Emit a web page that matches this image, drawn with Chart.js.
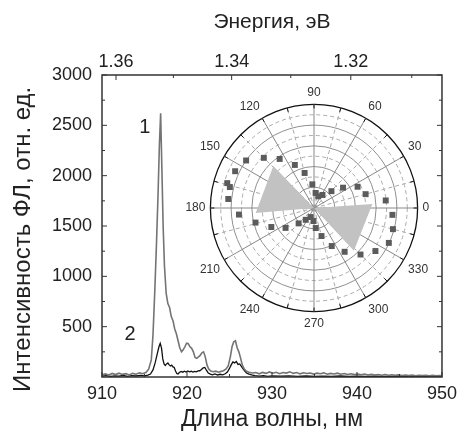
<!DOCTYPE html>
<html>
<head>
<meta charset="utf-8">
<script src="https://cdn.jsdelivr.net/npm/chart.js@4"></script>
<style>
  html, body { margin: 0; padding: 0; background: #fff; overflow: hidden; }
  #wrap { position: relative; width: 463px; height: 438px; overflow: hidden; }
  #main { position: absolute; left: 0; top: 0; }
  #inset { position: absolute; left: 164px; top: 85px; }
</style>
</head>
<body>
<div id="wrap">
  <canvas id="main" width="463" height="438"></canvas>
  <canvas id="inset" width="300" height="246"></canvas>
</div>
<script>
// Спектр 1 (серый)
const wl1 = [910.0, 910.4, 910.8, 911.2, 911.6, 912.0, 912.4, 912.8, 913.2, 913.6, 914.0, 914.4, 914.8, 915.2, 915.5, 915.8,
  916.0, 916.2, 916.4, 916.6, 916.75, 916.9, 917.05, 917.2, 917.35, 917.55, 917.75, 917.95, 918.15, 918.35, 918.55, 918.75,
  918.95, 919.15, 919.35, 919.55, 919.75, 919.95, 920.15, 920.35, 920.55, 920.75, 920.95, 921.15, 921.35, 921.55, 921.75,
  921.95, 922.15, 922.35, 922.55, 922.8, 923.1, 923.4, 923.7, 924.0, 924.3, 924.6, 924.85, 925.1, 925.3, 925.5, 925.7,
  925.9, 926.1, 926.3, 926.5, 926.7, 926.95, 927.3, 927.7, 928.1, 928.5, 928.9, 929.3, 929.7, 930.1, 930.5, 930.9, 931.3,
  931.7, 932.1, 932.5, 932.9, 933.3, 933.7, 934.1, 934.5, 934.9, 935.3, 935.7, 936.1, 936.5, 936.9, 937.3, 937.7, 938.1,
  938.5, 938.9, 939.3, 939.7, 940.1, 940.5, 940.9, 941.3, 941.7, 942.1, 942.5, 942.9, 943.3, 943.7, 944.1, 944.5, 944.9,
  945.3, 945.7, 946.1, 946.5, 946.9, 947.3, 947.7, 948.1, 948.5, 948.9, 949.3, 949.7, 950.0];
const pl1 = [22, 31, 19, 35, 24, 38, 26, 33, 21, 36, 28, 41, 33, 46, 80, 170,
  420, 830, 1300, 1830, 2300, 2620, 2050, 1480, 1100, 830, 730, 690, 600, 560, 480, 430,
  360, 290, 250, 270, 300, 335, 330, 300, 285, 250, 195, 185, 200, 215, 240,
  250, 200, 120, 80, 60, 52, 58, 48, 56, 62, 80, 110, 200, 300, 350, 360,
  290, 250, 190, 120, 85, 60, 48, 40, 44, 32, 46, 36, 50, 38, 47, 33, 45,
  39, 52, 36, 44, 31, 42, 35, 40, 29, 38, 32, 41, 28, 36, 30, 38, 27,
  34, 25, 32, 24, 30, 22, 29, 20, 27, 19, 25, 18, 24, 17, 22, 16, 21,
  15, 20, 14, 19, 13, 18, 14, 17, 12, 16, 13, 15, 12];

// Спектр 2 (черный)
const wl2 = [910.0, 910.5, 911.0, 911.5, 912.0, 912.5, 913.0, 913.5, 914.0, 914.5, 915.0, 915.4, 915.7, 916.0, 916.25,
  916.5, 916.7, 916.85, 917.0, 917.15, 917.3, 917.45, 917.6, 917.75, 917.9, 918.05, 918.2, 918.35, 918.5, 918.65, 918.8,
  918.95, 919.1, 919.3, 919.5, 919.7, 919.9, 920.1, 920.3, 920.5, 920.7, 920.9, 921.1, 921.3, 921.5, 921.7, 921.9, 922.1,
  922.3, 922.5, 922.75, 923.0, 923.3, 923.6, 923.9, 924.2, 924.5, 924.75, 925.0, 925.2, 925.4, 925.6, 925.8, 926.0,
  926.2, 926.4, 926.6, 926.8, 927.0, 927.3, 927.6, 928.0, 928.5, 929.0, 929.5, 930.0, 931.0, 932.0, 933.0, 934.0,
  935.0, 936.0, 937.0, 938.0, 939.0, 940.0, 941.0, 942.0, 943.0, 944.0, 945.0, 946.0, 947.0, 948.0, 949.0, 950.0];
const pl2 = [8, 14, 6, 12, 9, 15, 7, 13, 10, 16, 12, 18, 30, 70, 140,
  230, 300, 335, 290, 180, 130, 115, 130, 140, 120, 110, 118, 100, 95, 60, 35,
  30, 45, 55, 48, 58, 50, 60, 52, 57, 49, 55, 52, 60, 62, 75, 90, 95,
  65, 40, 28, 22, 30, 20, 27, 22, 32, 50, 85, 120, 150, 140, 155, 125,
  130, 105, 80, 60, 40, 28, 20, 14, 9, 13, 7, 11, 8, 12, 7, 10,
  6, 9, 7, 10, 6, 8, 5, 8, 6, 7, 5, 7, 5, 6, 5, 5];

// Оси
const nmTicks = [910, 920, 930, 940, 950];
const nmMinor = [915, 925, 935, 945];
const yTicks = [500, 1000, 1500, 2000, 2500, 3000];
const yMinor = [250, 750, 1250, 1750, 2250, 2750];
const evTicks = [1.36, 1.34, 1.32];
const evMinor = [1.35, 1.33, 1.31];
const hc = 1239.84; // нм*эВ

const curveNames = ['1', '2'];
const curveNameX = [915.05, 913.3];
const curveNameY = [2480, 420];

// Полярная вставка
const polarAngles = [145, 135, 125, 114, 105, 94, 84, 70, 57, 44, 35, 26, 15, 6, 355, 345, 335, 325, 315, 305,
  295, 285, 275, 268, 250, 235, 225, 215, 204, 194, 185, 174, 164, 166, 155];
const polarValues = [0.80, 0.685, 0.578, 0.455, 0.35, 0.229, 0.146, 0.12, 0.15, 0.234, 0.342, 0.468, 0.516, 0.696,
  0.76, 0.789, 0.797, 0.724, 0.635, 0.516, 0.405, 0.28, 0.194, 0.126, 0.093, 0.139, 0.21, 0.335, 0.451, 0.582,
  0.727, 0.832, 0.871, 0.837, 0.84];
const wedgeAngles = [313, 250, 185, 134, 70, 4];
const wedgeValues = [0.565, 0, 0.565, 0.565, 0, 0.565];

Chart.defaults.font.family = "'Liberation Sans', Arial, Helvetica, sans-serif";
Chart.defaults.color = '#222';

const framePlugin = {
  id: 'frame',
  afterDraw(chart) {
    const { ctx, chartArea: a, scales } = chart;
    const x = scales.x, y = scales.y;
    ctx.save();
    ctx.strokeStyle = '#333';
    ctx.lineWidth = 1.5;
    ctx.strokeRect(a.left, a.top, a.right - a.left, a.bottom - a.top);
    ctx.lineWidth = 1;
    ctx.beginPath();
    const tickX = (v, len) => {
      const px = x.getPixelForValue(v);
      ctx.moveTo(px, a.bottom); ctx.lineTo(px, a.bottom - len);
    };
    const tickTop = (e, len) => {
      const px = x.getPixelForValue(hc / e);
      ctx.moveTo(px, a.top); ctx.lineTo(px, a.top + len);
    };
    const tickY = (v, len) => {
      const py = y.getPixelForValue(v);
      ctx.moveTo(a.left, py); ctx.lineTo(a.left + len, py);
      ctx.moveTo(a.right, py); ctx.lineTo(a.right - len, py);
    };
    nmTicks.forEach(v => tickX(v, 5));
    nmMinor.forEach(v => tickX(v, 3));
    evTicks.forEach(e => tickTop(e, 5));
    evMinor.forEach(e => tickTop(e, 3));
    yTicks.forEach(v => tickY(v, 5));
    yMinor.forEach(v => tickY(v, 3));
    ctx.stroke();

    ctx.fillStyle = '#222';
    ctx.font = "20px 'Liberation Sans', Arial, sans-serif";
    ctx.textAlign = 'center';
    ctx.textBaseline = 'middle';
    curveNames.forEach((t, i) => {
      ctx.fillText(t, x.getPixelForValue(curveNameX[i]), y.getPixelForValue(curveNameY[i]));
    });
    ctx.restore();
  }
};

new Chart(document.getElementById('main'), {
  type: 'line',
  data: {
    datasets: [
      {
        label: '1',
        data: wl1.map((v, i) => ({ x: v, y: pl1[i] })),
        borderColor: '#747474',
        borderWidth: 1.6,
        pointRadius: 0,
        tension: 0
      },
      {
        label: '2',
        data: wl2.map((v, i) => ({ x: v, y: pl2[i] })),
        borderColor: '#111',
        borderWidth: 1.3,
        pointRadius: 0,
        tension: 0
      }
    ]
  },
  options: {
    responsive: false,
    animation: false,
    events: [],
    layout: { padding: { right: 17 } },
    plugins: { legend: { display: false }, tooltip: { enabled: false } },
    scales: {
      x: {
        type: 'linear', position: 'bottom', min: 910, max: 950,
        afterBuildTicks: s => { s.ticks = nmTicks.map(v => ({ value: v })); },
        afterFit: s => { s.height = 61; },
        grid: { display: false, drawTicks: false },
        border: { display: false },
        ticks: { padding: 6, font: { size: 18 }, color: '#222' },
        title: { display: true, text: 'Длина волны, нм', font: { size: 23 }, color: '#222', padding: { top: 0, bottom: 5 } }
      },
      top: {
        type: 'linear', position: 'top', min: 910, max: 950,
        afterBuildTicks: s => { s.ticks = evTicks.map(e => ({ value: hc / e })); },
        afterFit: s => { s.height = 75; },
        grid: { display: false, drawTicks: false },
        border: { display: false },
        ticks: { padding: 2, font: { size: 18 }, color: '#222', callback: v => (hc / v).toFixed(2) },
        title: { display: true, text: 'Энергия, эВ', font: { size: 21 }, color: '#222', padding: { top: 10, bottom: 0 } }
      },
      y: {
        min: 0, max: 3000,
        afterBuildTicks: s => { s.ticks = yTicks.map(v => ({ value: v })); },
        afterFit: s => { s.width = 102; },
        grid: { display: false, drawTicks: false },
        border: { display: false },
        ticks: { padding: 10, font: { size: 18 }, color: '#222', callback: v => String(v) },
        title: { display: true, text: 'Интенсивность ФЛ, отн. ед.    ', font: { size: 24 }, color: '#222', padding: { top: 9, bottom: 0 } }
      }
    }
  },
  plugins: [framePlugin]
});

// Вставка: полярная диаграмма
const polarLabels = Array.from({ length: 360 }, (_, i) => (360 - i) % 360);
const squareData = new Array(360).fill(null);
polarAngles.forEach((a, k) => { squareData[(360 - a) % 360] = polarValues[k]; });
const wedgeData = new Array(360).fill(null);
wedgeAngles.forEach((a, k) => { wedgeData[(360 - a) % 360] = wedgeValues[k]; });

const rimTicks = {
  id: 'rimTicks',
  afterDraw(chart) {
    const s = chart.scales.r;
    const ctx = chart.ctx;
    ctx.save();
    ctx.strokeStyle = '#111';
    ctx.lineWidth = 1;
    ctx.beginPath();
    for (let a = 0; a < 360; a += 15) {
      const idx = (360 - a) % 360;
      const p1 = s.getPointPosition(idx, s.drawingArea);
      const p2 = s.getPointPosition(idx, s.drawingArea - 4);
      ctx.moveTo(p1.x, p1.y); ctx.lineTo(p2.x, p2.y);
    }
    ctx.stroke();
    ctx.restore();
  }
};

new Chart(document.getElementById('inset'), {
  type: 'radar',
  data: {
    labels: polarLabels,
    datasets: [
      {
        data: squareData,
        showLine: false,
        fill: false,
        pointStyle: 'rect',
        pointRadius: 4.2,
        pointBackgroundColor: '#5b5b5b',
        pointBorderWidth: 0,
        borderWidth: 0
      },
      {
        data: wedgeData,
        spanGaps: true,
        fill: true,
        backgroundColor: '#c2c2c2',
        borderColor: '#c2c2c2',
        borderWidth: 0,
        pointRadius: 0,
        tension: 0
      }
    ]
  },
  options: {
    responsive: false,
    animation: false,
    events: [],
    plugins: { legend: { display: false }, tooltip: { enabled: false } },
    scales: {
      r: {
        min: 0, max: 1, startAngle: 90,
        ticks: { display: false, stepSize: 0.1 },
        grid: {
          circular: true,
          color: c => c.index === 10 ? '#111' : (c.index % 2 === 1 ? '#aaa' : '#8f8f8f'),
          lineWidth: c => c.index === 10 ? 1.3 : 1
        },
        border: { dash: c => (c.index % 2 === 1 ? [4, 3] : []) },
        angleLines: {
          color: c => (polarLabels[c.index] % 30 === 0 ? '#888' : '#aaa'),
          lineWidth: c => (polarLabels[c.index] % 15 === 0 ? 1 : 0),
          borderDash: c => (polarLabels[c.index] % 30 === 0 ? [] : [4, 3])
        },
        pointLabels: {
          font: { size: 12 },
          color: '#333',
          padding: 5,
          callback: label => (label % 30 === 0 ? String(label) : '')
        }
      }
    }
  },
  plugins: [rimTicks]
});
</script>
</body>
</html>
